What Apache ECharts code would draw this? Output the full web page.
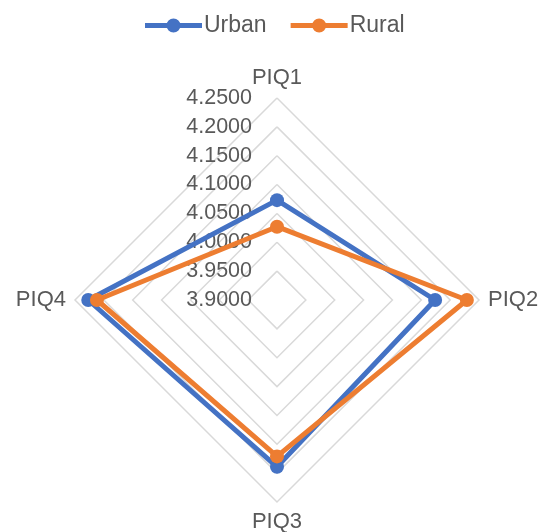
<!DOCTYPE html>
<html>
<head>
<meta charset="utf-8">
<script src="https://cdn.jsdelivr.net/npm/echarts@6/dist/echarts.min.js"></script>
<style>
  html, body { margin: 0; padding: 0; background: #fff; }
  #chart { width: 542px; height: 532px; }
</style>
</head>
<body>
<div id="chart"></div>
<script>
// Indicators, listed clockwise from the top
const categories = ['PIQ1', 'PIQ2', 'PIQ3', 'PIQ4'];
const urbanValues = [4.073, 4.174, 4.189, 4.227];
const ruralValues = [4.027, 4.229, 4.171, 4.212];
const scaleMin = 3.9;
const scaleMax = 4.25;
const scaleStep = 0.05;

const TEXT = '#595959';
const FONT = 'Liberation Sans, Arial, sans-serif';
const CX = 277, CY = 300, R = 202;

// ECharts lays indicators out counter-clockwise; reorder so they run clockwise
const order = [0, 3, 2, 1];
const pick = arr => order.map(i => arr[i]);

// Legend marker: a line with a dot in the middle (57 x 14 box)
const LINE_DOT_ICON = 'path://M0,4.5 L57,4.5 L57,9.5 L0,9.5 Z ' +
  'M21.5,7 A7,7 0 1,1 35.5,7 A7,7 0 1,1 21.5,7 Z';

const chart = echarts.init(document.getElementById('chart'));
chart.setOption({
  animation: false,
  textStyle: { fontFamily: FONT },
  legend: {
    top: 14,
    left: 145,
    padding: 0,
    itemWidth: 57,
    itemHeight: 14,
    itemGap: 24,
    textStyle: { color: TEXT, fontSize: 23, fontFamily: FONT, padding: [0, 0, 0, -3] },
    data: [
      { name: 'Urban', icon: LINE_DOT_ICON },
      { name: 'Rural', icon: LINE_DOT_ICON }
    ]
  },
  radar: {
    center: [CX, CY],
    radius: R,
    startAngle: 90,
    splitNumber: 7,
    shape: 'polygon',
    axisName: { color: TEXT, fontSize: 22, fontFamily: FONT },
    nameGap: 9,
    axisLine: { show: false },
    axisTick: { show: false },
    axisLabel: { show: false },
    splitArea: { show: false },
    splitLine: { lineStyle: { color: '#D9D9D9', width: 1.5 } },
    indicator: pick(categories).map(name => ({ name, min: scaleMin, max: scaleMax }))
  },
  // Value scale labels printed along the PIQ1 spoke
  grid: { left: CX, top: CY - R, width: 1, height: R },
  xAxis: { type: 'value', show: false },
  yAxis: {
    type: 'value',
    min: scaleMin,
    max: scaleMax,
    interval: scaleStep,
    axisLine: { show: false },
    axisTick: { show: false },
    splitLine: { show: false },
    axisLabel: {
      margin: 25,
      color: TEXT,
      fontSize: 21.5,
      fontFamily: FONT,
      formatter: v => v.toFixed(4)
    }
  },
  series: [{
    type: 'radar',
    symbol: 'circle',
    symbolSize: 14,
    data: [
      {
        name: 'Urban',
        value: pick(urbanValues),
        itemStyle: { color: '#4472C4' },
        lineStyle: { color: '#4472C4', width: 5 }
      },
      {
        name: 'Rural',
        value: pick(ruralValues),
        itemStyle: { color: '#ED7D31' },
        lineStyle: { color: '#ED7D31', width: 5 }
      }
    ]
  }]
});
</script>
</body>
</html>
